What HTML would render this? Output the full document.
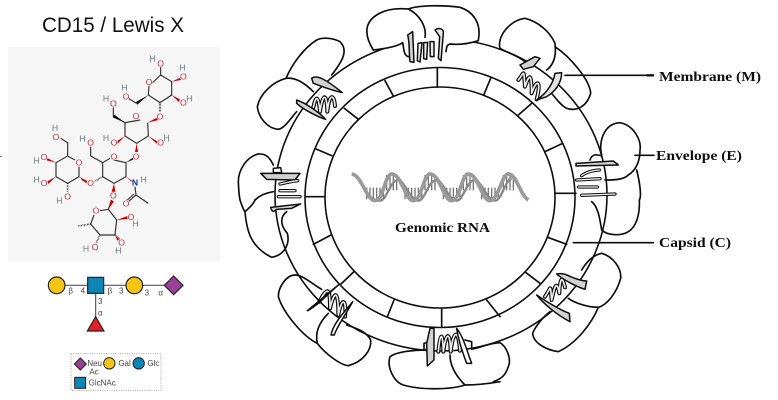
<!DOCTYPE html>
<html><head><meta charset="utf-8"><style>
html,body{margin:0;padding:0;background:#fff}
svg{display:block}
.l{fill:none;stroke:#111;stroke-width:5;stroke-linejoin:round;stroke-linecap:round}
.g{fill:#d2d2d2;stroke:#111;stroke-width:4.5;stroke-linejoin:round}
.z{fill:none;stroke:#111;stroke-width:12;stroke-linejoin:round;stroke-linecap:round}
.y{fill:none;stroke:#eee;stroke-width:5;stroke-linejoin:round;stroke-linecap:round}
.w{stroke-width:0;fill:#111}.r{stroke-width:0;fill:#c00}
.o,.h,.n{font-family:"Liberation Sans",sans-serif;font-size:26px;text-anchor:middle;paint-order:stroke;stroke:#f6f6f7;stroke-width:4px}
.o{fill:#c8303a}
.h{fill:#6a7a80}
.n{fill:#1030b0;font-weight:bold}
.lab{font:bold 13.5px "Liberation Serif",serif;fill:#111}
.gt{font:24px "Liberation Sans",sans-serif;fill:#444}
</style></head><body>
<svg width="778" height="400" viewBox="0 0 778 400" xmlns="http://www.w3.org/2000/svg">
<defs><filter id="bl"><feGaussianBlur stdDeviation="0.35"/></filter></defs>
<rect width="778" height="400" fill="#fff"/>
<text x="42" y="32" font-family="'Liberation Sans',sans-serif" font-size="21" fill="#111" textLength="142" lengthAdjust="spacingAndGlyphs">CD15 / Lewis X</text>
<rect x="8" y="47" width="212" height="214" fill="#f6f6f7"/>
<rect x="0" y="156" width="2" height="1" fill="#777"/>

<!-- molecule -->
<g transform="scale(.33333)" filter="url(#bl)">
<g fill="none" stroke="#333" stroke-width="3.5">
<path d="M447,258L482,225L515,245L515,285L480,308L445,285Z"/>
<path d="M482,225V200M410,310L385,295M420,360L375,368L375,408L410,430L445,408L443,368M375,368L340,348L340,322"/>
<path d="M342,480L378,488L378,530L342,550L308,530L308,488L330,475M308,488L272,468V440"/>
<path d="M237,500V530L203,550L168,530V488L203,468L225,480M203,468V428L182,415"/>
<path d="M300,632L325,628L350,660L345,705L300,705L272,672L282,645"/>
<path d="M405,560L408,585L385,605M408,585L445,610M402,582L382,600"/>
<path d="M258,546L245,538M325,628L335,600"/>
</g>
<path class="w" d="M445,285L408,306L412,314ZM375,368L343,344L338,352ZM378,488L402,470L406,476Z"/>
<path class="r" d="M443,368L472,352L476,360ZM378,530L396,542L400,550ZM515,245L541,233L543,240ZM515,285L540,298L537,306ZM375,408L350,424L352,432ZM445,408L472,424L470,431ZM410,430L405,456L414,456ZM237,530L262,543L259,550ZM168,488L142,474L140,481ZM168,530L142,544L145,552ZM342,550L335,575L346,576ZM325,628L332,600L342,604ZM350,660L382,648L383,657ZM345,705L358,718L352,722Z"/>
<path d="M480,308V336M308,530L284,544M203,550V576M300,705L288,730M272,672L235,678" stroke="#222" stroke-width="5" stroke-dasharray="2 2.5" fill="none"/>
<path d="M345,705L360,718" stroke="#c00" stroke-width="5" stroke-dasharray="2 2" fill="none"/>
<g transform="translate(0,3)">
<text class="o" x="447" y="252">O</text><text class="h" x="458" y="182">H</text><text class="o" x="482" y="196">O</text>
<text class="h" x="547" y="209">H</text><text class="o" x="550" y="235">O</text><text class="o" x="550" y="313">O</text><text class="h" x="569" y="301">H</text>
<text class="o" x="480" y="355">O</text><text class="o" x="378" y="295">O</text><text class="h" x="373" y="269">H</text>
<text class="o" x="408" y="354">O</text><text class="o" x="340" y="316">O</text><text class="h" x="318" y="302">H</text>
<text class="o" x="342" y="434">O</text><text class="h" x="318" y="420">H</text><text class="o" x="482" y="434">O</text><text class="h" x="500" y="420">H</text>
<text class="o" x="408" y="475">O</text><text class="o" x="342" y="475">O</text><text class="o" x="272" y="434">O</text><text class="h" x="247" y="422">H</text>
<text class="n" x="405" y="553">N</text><text class="h" x="431" y="544">H</text><text class="o" x="378" y="617">O</text><text class="o" x="340" y="593">O</text><text class="o" x="272" y="555">O</text>
<text class="o" x="237" y="494">O</text><text class="o" x="168" y="417">O</text><text class="h" x="165" y="390">H</text><text class="o" x="132" y="477">O</text><text class="h" x="110" y="487">H</text>
<text class="o" x="132" y="555">O</text><text class="h" x="110" y="544">H</text><text class="o" x="203" y="595">O</text><text class="h" x="178" y="607">H</text>
<text class="o" x="288" y="638">O</text><text class="o" x="393" y="657">O</text><text class="h" x="407" y="677">H</text><text class="o" x="365" y="733">O</text><text class="h" x="355" y="757">H</text><text class="o" x="285" y="747">O</text><text class="h" x="258" y="752">H</text>
</g>
</g>

<!-- glycan -->
<g transform="translate(30,260) scale(.33333)" filter="url(#bl)">
<path d="M80,76H430M197,76V195" stroke="#555" stroke-width="3.5" fill="none"/>
<circle cx="80" cy="76" r="25" fill="#f5c518" stroke="#222" stroke-width="3.5"/>
<rect x="173" y="52" width="48" height="48" fill="#0a85b5" stroke="#222" stroke-width="3.5"/>
<circle cx="313" cy="76" r="25" fill="#f5c518" stroke="#222" stroke-width="3.5"/>
<path d="M431,48L459,76L431,104L403,76Z" fill="#9a3f96" stroke="#222" stroke-width="3.5"/>
<path d="M197,170L222,213H172Z" fill="#ed1c24" stroke="#222" stroke-width="3.5"/>
<text class="gt" x="115" y="100">β</text><text class="gt" x="152" y="100">4</text><text class="gt" x="233" y="100">β</text><text class="gt" x="267" y="100">3</text>
<text class="gt" x="344" y="107">3</text><text class="gt" x="385" y="107">α</text><text class="gt" x="204" y="132">3</text><text class="gt" x="204" y="167">α</text>
<rect x="123" y="281" width="270" height="110" fill="none" stroke="#aaa" stroke-width="3" stroke-dasharray="3 4"/>
<path d="M151,294L169,312L151,330L133,312Z" fill="#9a3f96" stroke="#222" stroke-width="3"/>
<text class="gt" x="172" y="318">Neu</text><text class="gt" x="178" y="344">Ac</text>
<circle cx="238" cy="310" r="17" fill="#f5c518" stroke="#222" stroke-width="3"/><text class="gt" x="265" y="318">Gal</text>
<circle cx="326" cy="310" r="17" fill="#0a85b5" stroke="#222" stroke-width="3"/><text class="gt" x="352" y="318">Glc</text>
<rect x="134" y="352" width="33" height="33" fill="#0a85b5" stroke="#222" stroke-width="3"/><text class="gt" x="176" y="376">GlcNAc</text>
</g>

<g filter="url(#bl)">
<!-- rings -->
<ellipse cx="441" cy="195" rx="166" ry="156" fill="none" stroke="#111" stroke-width="1.6"/>
<ellipse cx="440" cy="197.500" rx="135" ry="130" fill="none" stroke="#111" stroke-width="1.6"/>
<ellipse cx="440" cy="197.500" rx="115" ry="110.500" fill="none" stroke="#111" stroke-width="1.6"/>

<!-- top-left quadrant -->
<g transform="translate(230,0) scale(.33333)">
<path class="l" d="M622,205V262M465,242L490,288M343,325L385,358M258,447L305,467M228,590H285M782,235L762,283"/>
<path d="M430,150C470,145 500,140 518,128C522,145 520,165 538,172L630,170C645,165 640,140 650,132C680,135 715,130 745,122L740,60L440,60Z" fill="#fff" stroke="none"/>
<path class="l" d="M430,150C470,145 500,140 518,128C522,145 520,165 535,170M648,155C650,140 650,135 660,132C690,135 720,130 745,122"/>
<path class="l" d="M430,150C405,110 400,70 440,45C470,25 510,25 535,27C565,15 640,15 690,22C730,35 755,70 745,120M535,27C570,45 590,80 585,112"/>
<path class="g" d="M533,105L548,95L552,187L540,185C536,160 540,130 533,105Z"/>
<path class="g" d="M615,90C625,82 642,85 640,100L633,182L625,175L629,110Z" style="fill:#e4e4e4"/>
<path class="g" style="fill:#eee" d="M564,130L576,128L570,186L562,182ZM581,128L593,127L590,178L581,176ZM600,125L612,125L612,170L601,170Z"/>
<path class="l" d="M305,225C340,180 355,150 330,125C310,115 280,110 260,120C220,145 185,195 168,235C130,245 90,280 82,320C85,350 110,385 145,388C165,385 185,350 200,335M168,235C200,230 230,255 250,275"/>
<path class="z" d="M250,322C258,285 265,285 270,335C278,280 290,275 292,335C298,280 312,280 315,318"/>
<path class="y" d="M250,322C258,285 265,285 270,335C278,280 290,275 292,335C298,280 312,280 315,318"/>
<path class="g" d="M245,235C260,222 290,240 337,278C300,270 265,255 250,250Z"/>
<path class="g" d="M200,300C230,310 270,340 287,358C260,350 215,325 200,310Z"/>
<path class="l" d="M130,495C120,475 110,460 85,462C50,470 25,510 25,545C26,575 28,590 30,600M75,600C90,585 110,578 130,575"/>
<path class="g" d="M92,520L210,520L195,540L110,538Z"/>
<path class="g" d="M130,505L152,503L155,518H130Z" style="fill:#fff"/>
<path class="z" style="stroke-width:10" d="M150,552C170,548 190,542 203,542M150,572H195M145,590H210"/>
<path class="y" style="stroke-width:4" d="M150,552C170,548 190,542 203,542M150,572H195M145,590H210"/>
</g>

<!-- top-right quadrant -->
<g transform="translate(500,0) scale(.33333)">
<path class="l" d="M95,310L55,345M188,430L135,455M165,580H228"/>
<path class="l" d="M0,145C-10,110 30,60 75,55C115,65 150,95 165,130C170,170 160,195 140,210M165,140C210,170 270,240 272,280C260,320 230,335 200,325C180,315 165,290 150,275M0,145C25,160 50,165 75,185"/>
<path class="z" d="M55,240C75,215 70,205 75,260C90,215 95,225 95,280C110,235 125,240 110,298"/>
<path class="y" d="M55,240C75,215 70,205 75,260C90,215 95,225 95,280C110,235 125,240 110,298"/>
<path class="g" d="M60,195L105,170L120,175L100,200L70,208Z"/>
<path class="g" d="M110,300C140,280 160,250 165,220L185,218C185,250 165,275 140,290Z" style="fill:#e4e4e4"/>
<path class="l" d="M305,465C295,430 310,370 360,368C400,375 425,420 420,450C420,480 410,510 385,525C370,540 340,540 315,540M410,510C420,550 425,590 418,600M270,480C275,462 290,462 305,468"/>
<path class="l" d="M195,226H455M405,466H462"/>
<path d="M440,226H462" stroke="#111" stroke-width="7"/>
<path class="g" d="M228,490L340,483L355,495L228,498Z"/>
<path class="z" style="stroke-width:10" d="M245,527C260,515 285,510 298,510M230,540L300,536M236,561H292M245,586L345,582"/>
<path class="y" style="stroke-width:4" d="M245,527C260,515 285,510 298,510M230,540L300,536M236,561H292M245,586L345,582"/>
</g>

<!-- bottom-left quadrant -->
<g transform="translate(230,200) scale(.33333)">
<path class="l" d="M250,133L303,105M333,252L372,215M472,350L492,300M635,325V382M770,300L810,350"/>
<path class="l" d="M45,35C50,90 60,140 125,172C165,165 180,130 172,100C150,75 150,50 170,35M30,0C35,15 40,30 45,35C55,25 70,15 75,0"/>
<path class="g" d="M122,22L212,12L185,25L140,28C130,38 125,35 122,22Z"/>
<path class="l" d="M195,225C170,225 145,260 145,290C160,340 220,410 262,430C285,460 330,495 355,497C400,485 425,450 422,420C410,395 380,385 350,375M262,430C255,400 265,370 295,340M195,225C220,225 250,255 275,268"/>
<path class="z" d="M268,305C290,265 300,255 300,325C315,265 325,275 325,345C335,290 350,295 345,350"/>
<path class="y" d="M268,305C290,265 300,255 300,325C315,265 325,275 325,345C335,290 350,295 345,350"/>
<path class="g" d="M232,332L325,255L265,310L240,328Z"/>
<path class="g" style="fill:#fff" d="M368,305C350,340 320,380 313,405L303,405C310,370 340,340 368,305Z"/>
<path class="l" d="M590,450C550,450 500,455 480,470C470,500 490,545 520,555C570,570 660,570 705,555C740,555 780,550 810,545M660,465C660,500 680,530 705,555M725,447C750,445 770,430 810,428M582,450V430L600,425M705,420L725,425V447"/>
<path class="z" d="M625,455C630,400 638,390 640,455C648,395 660,390 662,455C670,390 685,385 690,452"/>
<path class="y" d="M625,455C630,400 638,390 640,455C648,395 660,390 662,455C670,390 685,385 690,452"/>
<path class="g" d="M600,385L612,385L612,480L592,498L590,430Z"/>
<path class="g" style="fill:#fff" d="M680,385C700,410 710,450 725,490L710,490C695,450 685,420 680,385Z"/>
</g>

<!-- bottom-right quadrant -->
<g transform="translate(500,200) scale(.33333)">
<path class="l" d="M143,112L200,133M78,218L120,250"/>
<path class="l" d="M245,210C260,185 280,165 305,160C340,170 365,205 362,235C350,280 320,315 295,322C265,322 225,310 205,295M295,322C275,370 230,430 175,455C140,450 100,430 98,400C105,380 130,350 150,335"/>
<path class="l" d="M418,0C420,40 410,80 385,95C360,110 320,105 305,90C300,60 295,20 275,5M0,428C20,440 30,470 28,490C20,520 10,535 -20,545"/>
<path class="l" d="M220,128H460"/>
<path class="z" d="M135,290C155,260 150,250 155,300C165,255 170,240 178,280C180,240 185,220 195,262"/>
<path class="y" d="M135,290C155,260 150,250 155,300C165,255 170,240 178,280C180,240 185,220 195,262"/>
<path class="g" d="M170,222C200,215 215,240 260,243L255,268C230,260 190,240 170,222Z"/>
<path class="g" d="M110,285C140,305 180,330 208,340L210,365C170,345 130,310 110,285Z"/>
</g>

<!-- DNA -->
<g transform="translate(340,160) scale(.33333)">
<path d="M78,100H132M193,100H247M308,100H362M423,100H477" fill="none" stroke="#777" stroke-width="34" stroke-dasharray="4 6"/>
<path d="M138,68H176M253,68H291M368,68H406M488,68H526" fill="none" stroke="#777" stroke-width="46" stroke-dasharray="4 6"/>
<path d="M70,80C85,110 100,122 120,122C140,122 150,60 175,60M180,60C200,80 215,122 235,122C255,122 265,60 290,60M295,60C315,80 330,122 350,122C370,122 380,60 405,60M410,60C430,80 445,122 465,122C485,122 495,60 515,55" fill="none" stroke="#888" stroke-width="7"/>
<path d="M35,42C65,45 80,122 105,122C130,122 135,42 155,42C185,42 195,122 220,122C245,122 250,42 270,42C300,42 310,122 335,122C360,122 365,42 385,42C415,42 425,122 450,122C475,122 485,42 505,42C530,42 540,105 565,120" fill="none" stroke="#9a9a9a" stroke-width="11"/>
</g>

<text class="lab" x="659" y="81" textLength="102" lengthAdjust="spacingAndGlyphs">Membrane (M)</text>
<text class="lab" x="656" y="160" textLength="86" lengthAdjust="spacingAndGlyphs">Envelope (E)</text>
<text class="lab" x="659" y="247" textLength="72" lengthAdjust="spacingAndGlyphs">Capsid (C)</text>
<text class="lab" x="395" y="232" textLength="95" lengthAdjust="spacingAndGlyphs">Genomic RNA</text>
</g>
</svg>
</body></html>
